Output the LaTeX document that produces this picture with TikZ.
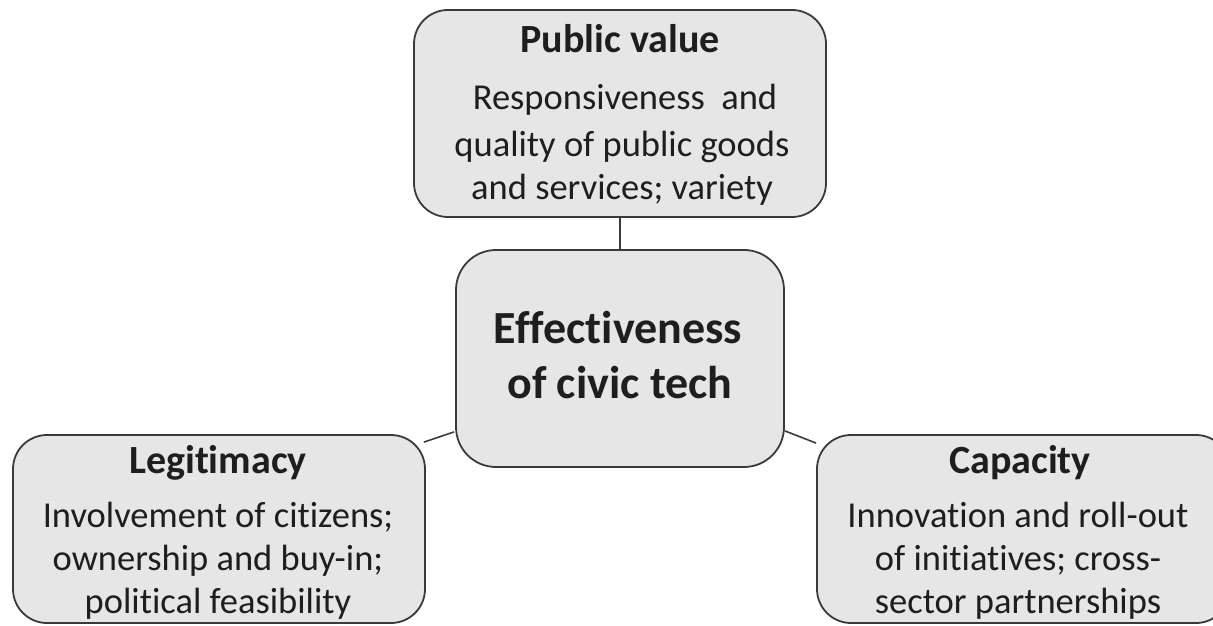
\documentclass[tikz,border=0pt]{standalone}
\usepackage{fontspec}
\setmainfont{Carlito}[Ligatures={NoCommon,TeX}]
\definecolor{boxfill}{HTML}{E6E6E6}
\definecolor{boxline}{HTML}{3A3A3A}
\definecolor{txt}{HTML}{1E1E1E}
\tikzset{
  box/.style={draw=boxline, fill=boxfill, line width=1.8pt, rounded corners=34pt, inner sep=0pt},
  ttl/.style={anchor=base, inner sep=0pt, text=txt, font=\fontsize{40}{48}\selectfont\bfseries},
  body/.style={anchor=base, inner sep=0pt, text=txt, font=\fontsize{36.5}{44}\selectfont},
  big/.style={anchor=base, inner sep=0pt, text=txt, font=\fontsize{46}{54}\selectfont\bfseries},
  link/.style={draw=boxline, line width=1.6pt}
}
\begin{document}
\begin{tikzpicture}[x=1pt,y=1pt]
\useasboundingbox (0,0) rectangle (1213,625);
% boxes
\node[box, minimum width=412pt, minimum height=207pt] (pv) at (620,511.5) {};
\node[box, minimum width=328pt, minimum height=217pt, rounded corners=40pt] (ctr) at (620,266.5) {};
\node[box, minimum width=412pt, minimum height=188pt] (leg) at (219,96) {};
\node[box, minimum width=413pt, minimum height=188pt] (cap) at (1023.5,96) {};
% connectors
\draw[link] (pv.south) -- (ctr.north);
\draw[link] ([shift={(-2pt,-8pt)}]leg.north east) -- ([shift={(-1pt,36pt)}]ctr.south west);
\draw[link] ([shift={(0pt,37pt)}]ctr.south east) -- ([shift={(0pt,-9pt)}]cap.north west);
% public value
\node[ttl] (pvt) at (620,572) {Public value};
\node[body] (pv1) at (625,515) {Responsiveness\ \ and};
\node[body] (pv2) at (622,468) {quality of public goods};
\node[body] (pv3) at (622,425) {and services; variety};
% center
\node[big] (c1) at (618,282) {Effectiveness};
\node[big] (c2) at (620,227) {of civic tech};
% legitimacy
\node[ttl] (lgt) at (218,152) {Legitimacy};
\node[body] (lg1) at (218,98) {Involvement of citizens;};
\node[body] (lg2) at (218,55) {ownership and buy-in;};
\node[body] (lg3) at (218,12) {political feasibility};
% capacity
\node[ttl] (cpt) at (1020,152) {Capacity};
\node[body] (cp1) at (1018,98) {Innovation and roll-out};
\node[body] (cp2) at (1018,55) {of initiatives; cross-};
\node[body] (cp3) at (1018,12) {sector partnerships};
\end{tikzpicture}
\end{document}
